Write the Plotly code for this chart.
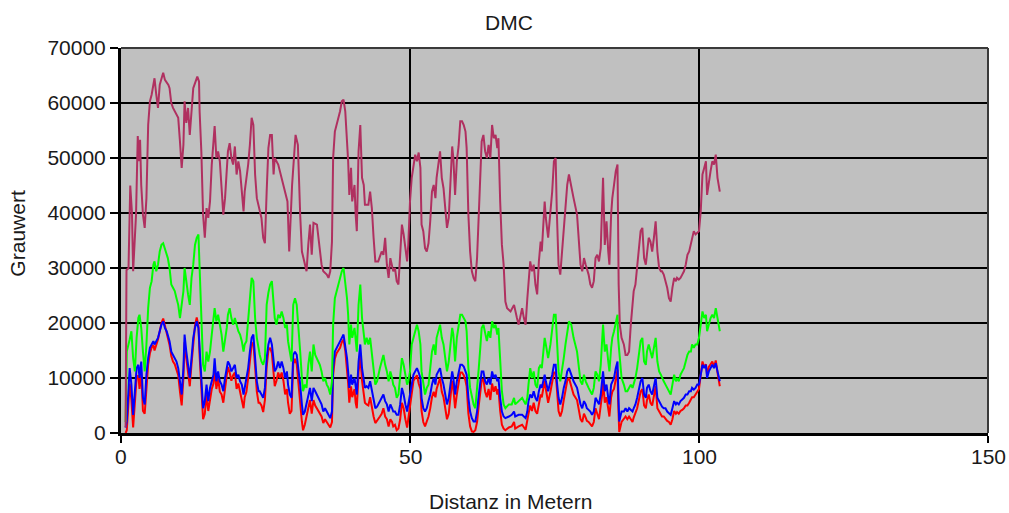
import plotly.graph_objects as go

# ---- Grauwert profile along the measured distance (metres) ----
# distance samples of the upper (DMC total) curve
DMC_X = [
    0.8, 0.95, 1.3, 1.6, 1.9, 2.1, 2.6, 2.9, 3.1, 3.3,
    3.5, 3.8, 4.1, 4.4, 4.7, 5.0, 5.3, 5.6, 5.8, 6.1,
    6.4, 6.7, 7.3, 7.6, 8.2, 8.4, 8.7, 9.0, 9.6, 9.9,
    10.2, 10.5, 10.8, 11.0, 11.3, 11.6, 11.9, 12.2, 12.5, 12.9,
    13.2, 13.5, 13.6, 13.9, 14.2, 14.5, 14.8, 15.1, 15.4, 15.7,
    16.0, 16.2, 16.5, 16.8, 17.1, 17.4, 17.7, 18.0, 18.3, 18.5,
    18.8, 19.1, 19.4, 19.7, 20.0, 20.3, 20.6, 20.9, 21.2, 21.4,
    21.7, 22.0, 22.3, 22.6, 22.9, 23.2, 23.5, 23.8, 24.0, 24.3,
    24.6, 24.9, 25.2, 25.5,
    25.8, 26.1, 26.4, 26.6, 27.2, 27.8, 28.4, 28.8, 29.1, 29.4,
    29.6, 30.0, 30.2, 30.6, 30.8, 31.0, 31.3, 31.8, 32.1, 32.4,
    32.7, 33.0, 33.3, 33.9, 34.4, 34.7, 35.0, 35.6, 35.9, 36.2,
    36.5, 36.7, 37.0, 37.3, 37.6, 37.9, 38.2, 38.5, 38.8, 39.1,
    39.3, 39.5, 39.8, 40.0, 40.4, 40.6, 40.8, 41.1, 41.4, 41.7,
    42.0, 42.2, 42.8, 43.1, 43.4, 43.7, 44.0, 44.5, 45.1, 45.4,
    45.7, 46.0, 46.3, 46.6, 46.9, 47.1, 47.4, 47.7, 48.0, 48.3,
    48.6, 48.9, 49.2, 49.5, 49.7, 50.0, 50.3, 50.6, 50.9, 51.2,
    51.5,
    51.8, 52.0, 52.3, 52.6, 52.9, 53.2, 53.5, 53.8, 54.1, 54.4,
    54.6, 54.9, 55.2, 55.5, 55.8, 56.1, 56.4, 56.7, 57.0, 57.3,
    57.5, 57.8, 58.1, 58.4, 58.7, 59.0, 59.3, 59.6, 59.8, 60.1,
    60.4, 60.7, 61.0, 61.3, 61.6, 61.9, 62.2, 62.4, 62.7, 63.0,
    63.3, 63.6, 63.9, 64.2, 64.5, 64.8, 65.1, 65.3, 65.6, 65.9,
    66.2, 66.5, 66.8, 67.4, 68.0, 68.2, 68.5, 68.8, 69.1, 69.4,
    69.7, 70.0, 70.3, 70.5, 70.8, 71.1, 71.4, 71.7, 72.0, 72.3,
    72.6, 72.8, 73.1, 73.3, 73.5, 73.9, 74.3, 74.6, 74.9, 75.2,
    75.4, 75.7, 76.0, 76.3, 76.6, 76.9, 77.2, 77.5,
    77.9, 78.3, 78.9, 79.2, 79.5, 79.8, 80.1, 80.4, 80.6, 80.9,
    81.2, 81.5, 81.8, 82.1, 82.4, 82.7, 83.0, 83.3, 83.4, 83.7,
    84.0, 84.3, 84.5, 84.8, 85.0, 85.3, 85.6, 85.9, 86.0, 86.1,
    86.3, 86.6, 87.0, 87.3, 87.6, 87.9, 88.2, 88.5, 88.7, 89.0,
    89.3, 89.6, 89.9, 90.2, 90.5, 90.8, 91.0, 91.3, 91.6, 91.9,
    92.2, 92.5, 92.8, 93.1, 93.4, 93.6, 93.9, 94.2, 94.5, 94.8,
    95.1, 95.4, 95.7, 96.0, 96.2, 96.5, 96.8, 97.1, 97.4, 97.7,
    98.0, 98.3, 98.6, 98.8, 99.1, 99.4, 99.7, 100.0, 100.3, 100.6,
    100.9, 101.2, 101.4, 101.7, 102.0, 102.3, 102.6, 102.9, 103.2, 103.6,
]
DMC_Y = [
    1000, 29600, 30000, 45000, 40000, 29400, 39700, 54000, 49400, 53300,
    45100, 39700, 37300, 42700, 56000, 60300, 61500, 63900, 64500, 61500,
    59100, 63300, 65500, 64200, 63300, 62700, 60000, 59100, 57900, 57300,
    53000, 48200, 52400, 60300, 56400, 59100, 54200, 58500, 62700, 63900,
    64800, 63900, 58500, 51200, 39700, 35500, 40900, 39100, 42100, 48800,
    53600, 55800, 50000, 51200, 49400, 45100, 39700, 42700, 47600, 51200,
    52700, 50000, 48800, 52100, 47000, 49400, 47600, 43300, 40300, 43900,
    46400, 48800, 52400, 57300, 56000, 47000, 42700, 41500, 40300, 39100,
    35500, 34500, 43900, 51800,
    54200, 54200, 47000, 50000, 48800, 46400, 43900, 42100, 33000, 40300,
    45100, 51200, 54200, 52400, 45100, 39700, 33000, 30600, 29400, 34200,
    37900, 32400, 38200, 37900, 33000, 30600, 29400, 28800, 28200, 29400,
    34800, 50000, 54800, 56000, 57300, 58500, 60300, 60600, 58500, 53000,
    49400, 43300, 48200, 42100, 45100, 39700, 36700, 51200, 56000, 46400,
    45100, 41500, 41500, 43900, 40900, 35500, 31200, 31200, 33000, 32400,
    35500, 30600, 28200, 31800, 30600, 29400, 30000, 27600, 27000, 31800,
    37900, 36100, 33000, 31200, 34200, 42100, 46400, 48800, 50600, 49400,
    51000,
    48200, 37900, 36700, 33600, 33000, 34500, 38500, 43900, 45100, 42700,
    46400, 48800, 51200, 46400, 44500, 40900, 37300, 39100, 44500, 52100,
    50000, 43300, 49400, 52100, 56700, 56700, 56000, 54800, 51800, 39700,
    33000, 29400, 28200, 27600, 31800, 40300, 46400, 53000, 54200, 51200,
    50000, 52400, 50000, 56000, 53600, 54200, 51800, 53600, 42100, 34200,
    30600, 23900, 22700, 22100, 23300, 22100, 20900, 19700, 21500, 22700,
    20900, 19700, 24500, 27600, 31200, 29400, 30600, 27000, 25200, 31200,
    34800, 33000, 37900, 42100, 39100, 35500, 40300, 43900, 49400, 50000,
    40300, 30600, 28800, 33000, 36700, 41500, 45100, 47000,
    44500, 42700, 39700, 34200, 30600, 29400, 31800, 30600, 30000, 28800,
    27000, 26400, 27600, 31800, 32400, 31200, 33600, 40900, 46400, 34200,
    38500, 33000, 30600, 39700, 42700, 45100, 47600, 48800, 36100, 27000,
    19700, 17300, 16100, 14200, 14200, 14800, 19700, 23300, 25800, 27000,
    30000, 34200, 36700, 37300, 31800, 30600, 33000, 35500, 34800, 33000,
    35500, 38500, 33000, 30000, 29400, 29400, 28800, 27600, 26400, 24500,
    23900, 26400, 28200, 27600, 28200, 27900, 28200, 28800, 29400, 30600,
    32400, 33000, 34200, 35500, 36700, 36100, 36400, 36700, 40300, 47000,
    48200, 49400, 43300, 45800, 47600, 49400, 48800, 50600, 46400, 43900,
]

# distance samples shared by the three colour channels
CH_X = [
    0.8, 1.0, 1.5, 1.8, 2.1, 2.4, 2.7, 3.0, 3.2, 3.5,
    3.8, 4.1, 4.4, 4.7, 5.0, 5.3, 5.6, 5.8, 6.1, 6.4,
    6.7, 7.0, 7.3, 7.6, 7.9, 8.1, 8.4, 8.7, 9.0, 9.3,
    9.6, 9.9, 10.2, 10.5, 10.8, 11.0, 11.3, 11.6, 11.9, 12.2,
    12.5, 12.8, 13.1, 13.4, 13.6, 13.9, 14.2, 14.5, 14.8, 15.1,
    15.4, 15.7, 16.0, 16.2, 16.5, 16.8, 17.1, 17.4, 17.7, 18.0,
    18.3, 18.5, 18.8, 19.1, 19.4, 19.7, 20.0, 20.3, 20.6, 20.9,
    21.2, 21.4, 21.7, 22.0, 22.3, 22.6, 22.9, 23.2, 23.5, 23.8,
    24.0, 24.3, 24.6, 24.9, 25.2, 25.5,
    25.8, 26.1, 26.4, 26.6, 26.9, 27.2, 27.5, 27.8, 28.1, 28.4,
    28.7, 28.9, 29.2, 29.5, 29.8, 30.1, 30.4, 30.7, 31.0, 31.3,
    31.5, 31.8, 32.1, 32.4, 32.7, 33.0, 33.3, 33.6, 33.9, 34.1,
    34.4, 34.7, 35.0, 35.3, 35.6, 35.9, 36.2, 36.5, 36.7, 37.0,
    37.3, 37.6, 37.9, 38.2, 38.5, 38.8, 39.1, 39.3, 39.5, 39.8,
    40.0, 40.4, 40.6, 40.8, 41.1, 41.4, 41.7, 42.0, 42.2, 42.5,
    42.8, 43.1, 43.4, 43.7, 44.0, 44.3, 44.5, 44.8, 45.1, 45.4,
    45.7, 46.0, 46.3, 46.6, 46.9, 47.1, 47.4, 47.7, 48.0, 48.3,
    48.6, 48.9, 49.2, 49.5, 49.7, 50.0, 50.3, 50.6, 50.9, 51.2,
    51.5,
    51.8, 52.0, 52.3, 52.6, 52.9, 53.2, 53.5, 53.8, 54.1, 54.4,
    54.6, 54.9, 55.2, 55.5, 55.8, 56.1, 56.4, 56.7, 57.0, 57.3,
    57.5, 57.8, 58.1, 58.4, 58.7, 59.0, 59.3, 59.6, 59.8, 60.1,
    60.4, 60.7, 61.0, 61.3, 61.6, 61.9, 62.2, 62.4, 62.7, 63.0,
    63.3, 63.6, 63.9, 64.2, 64.5, 64.8, 65.1, 65.3, 65.6, 65.9,
    66.2, 66.5, 67.1, 67.6, 68.0, 68.2, 68.8, 69.4, 70.0, 70.3,
    70.5, 70.8, 71.1, 71.4, 71.7, 72.0, 72.3, 72.6, 72.8, 73.1,
    73.3, 73.5, 73.9, 74.3, 74.6, 74.9, 75.2, 75.4, 75.7, 76.0,
    76.3, 76.6, 76.9, 77.2, 77.5,
    77.9, 78.3, 78.9, 79.2, 79.5, 79.8, 80.1, 80.4, 80.6, 80.9,
    81.2, 81.5, 81.8, 82.1, 82.4, 82.7, 83.0, 83.3, 83.4, 83.7,
    84.0, 84.3, 84.5, 84.8, 85.0, 85.3, 85.6, 85.9, 86.0, 86.2,
    86.6, 87.0, 87.3, 87.6, 87.9, 88.2, 88.5, 88.7, 89.0, 89.3,
    89.6, 89.9, 90.2, 90.5, 90.8, 91.0, 91.3, 91.6, 91.9, 92.2,
    92.5, 92.8, 93.1, 93.4, 93.6, 93.9, 94.2, 94.5, 94.8, 95.1,
    95.4, 95.7, 96.0, 96.2, 96.5, 96.8, 97.1, 97.4, 97.7, 98.0,
    98.3, 98.6, 98.8, 99.1, 99.4, 99.7, 100.0, 100.3, 100.6, 100.9,
    101.2, 101.4, 101.7, 102.0, 102.3, 102.6, 102.9, 103.2, 103.6,
]

GREEN_Y = [
    2000, 14800, 17000, 18500, 13600, 11200, 17300, 20900, 21500, 19100,
    14800, 11200, 16100, 22700, 26400, 27600, 30600, 31200, 29400, 30600,
    33000, 34200, 34500, 33600, 32400, 31800, 30000, 27000, 26400, 25800,
    24500, 23300, 20900, 23300, 25800, 30000, 27000, 25200, 23300, 28200,
    30600, 34200, 35500, 36100, 30000, 21500, 12400, 11200, 14800, 13000,
    14800, 17900, 20900, 22700, 20300, 21500, 19700, 17900, 14800, 16700,
    19100, 21500, 22700, 20900, 19700, 20900, 19700, 18500, 17900, 16700,
    14800, 16100, 16700, 20900, 23300, 28200, 27600, 20900, 17300, 14800,
    14200, 13000, 12400, 13600, 23300, 25500,
    27000, 27600, 23300, 20900, 19700, 21500, 20900, 22100, 20900, 19100,
    19700, 16700, 14800, 13000, 23300, 24500, 23300, 19700, 14800, 10000,
    7600, 8800, 8200, 12400, 14800, 11200, 16100, 14200, 13600, 13000,
    12400, 11200, 9400, 10000, 8800, 8200, 7000, 9400, 19700, 24500,
    25800, 27000, 28200, 29400, 30000, 27600, 24500, 21500, 16100, 19700,
    17300, 19100, 16700, 14800, 23300, 27000, 20900, 17900, 16100, 17300,
    16100, 17300, 14800, 11200, 8800, 9400, 10600, 11800, 13000, 14200,
    12400, 11200, 9400, 11200, 10000, 8800, 8200, 6400, 7000, 10000,
    13600, 12400, 10600, 8800, 9400, 11200, 16100, 17300, 18500, 19700,
    18500,
    16100, 11200, 8800, 7000, 8200, 8800, 11800, 14800, 16100, 14200,
    17300, 18500, 19700, 17300, 16100, 13600, 11200, 13000, 16100, 19100,
    17900, 13000, 17300, 19100, 21500, 21500, 20900, 20300, 18500, 11800,
    8200, 6400, 5200, 4500, 7600, 11800, 16100, 19100, 19700, 17900,
    16700, 18500, 17300, 20300, 19100, 19700, 17900, 19100, 12400, 7600,
    5200, 4500, 5200, 5200, 6400, 5200, 5800, 6400, 5200, 6400,
    8800, 11800, 10000, 11200, 8800, 8200, 11800, 12400, 11800, 14800,
    17300, 16100, 13600, 16100, 18500, 21500, 21500, 16100, 11200, 9400,
    11200, 13600, 16100, 18500, 20300,
    19700, 17300, 14800, 11800, 9400, 8800, 10600, 9400, 8800, 8200,
    7600, 7000, 8200, 11200, 10600, 9400, 12400, 17300, 19700, 14800,
    16100, 13000, 11200, 15500, 17300, 18500, 20300, 21500, 17300, 14800,
    10000, 8800, 7600, 7600, 8200, 8800, 8200, 8800, 10000, 11800,
    14800, 16700, 17300, 13000, 12400, 14800, 16100, 14800, 13600, 15500,
    17300, 13000, 11200, 10600, 10000, 9400, 8800, 8200, 7600, 7000,
    8800, 10600, 9400, 10000, 9400, 10600, 11200, 11800, 13000, 14200,
    14800, 14800, 16100, 15500, 16100, 16100, 17300, 19700, 22100, 20900,
    21500, 18500, 19700, 20900, 21500, 20900, 22700, 20900, 18500,
]

BLUE_Y = [
    1000, 2100, 11800, 8800, 3300, 7600, 11800, 12400, 10000, 13000,
    6400, 5200, 10600, 13600, 15500, 16100, 16700, 16100, 16700, 17300,
    18500, 19700, 20300, 19100, 18500, 17900, 16700, 14800, 14200, 13600,
    13000, 11800, 9400, 7000, 11800, 17900, 14800, 12400, 10000, 13600,
    17300, 19100, 20300, 19100, 14800, 9400, 4500, 5800, 8800, 5800,
    8200, 9400, 10600, 13600, 9400, 11200, 9400, 8800, 7600, 10000,
    11800, 13000, 12400, 11200, 11800, 12400, 10000, 10600, 9400, 8800,
    7000, 8200, 9400, 11800, 14800, 17300, 17900, 13000, 9400, 7600,
    7600, 7000, 6400, 8200, 13600, 16100,
    17300, 16100, 13000, 11200, 11800, 13000, 11800, 13000, 11800, 10000,
    11200, 8800, 7000, 6400, 14200, 14800, 14200, 11800, 8800, 5200,
    3300, 3900, 5200, 7000, 8200, 5800, 8200, 7600, 7000, 6400,
    5800, 5200, 3900, 4500, 3900, 3300, 2700, 3900, 11800, 14800,
    15500, 16100, 16700, 17300, 17900, 16100, 13600, 11200, 8200, 10600,
    8800, 10000, 8200, 7000, 13000, 16100, 11800, 9400, 8200, 8500,
    8200, 9400, 7600, 5800, 4500, 4800, 5200, 5800, 6400, 7000,
    5800, 5200, 3900, 5200, 4500, 3900, 3900, 3300, 3300, 5200,
    8200, 7000, 5200, 3900, 5200, 7000, 9400, 10600, 11200, 11800,
    11000,
    10000, 6400, 4500, 3900, 4500, 5800, 7000, 8800, 10000, 8800,
    10600, 11200, 11800, 10000, 8800, 7000, 5200, 6400, 9400, 11200,
    10000, 7000, 9400, 11200, 12400, 12400, 12100, 11200, 10600, 6400,
    3900, 2700, 2100, 2100, 3900, 7000, 9400, 11200, 11200, 9400,
    8800, 10000, 8800, 11200, 10000, 10600, 9400, 10000, 6400, 3900,
    3000, 2700, 3000, 3300, 3900, 3000, 3300, 3300, 2700, 3900,
    5800, 7000, 6400, 7600, 6400, 5800, 7600, 8800, 8200, 9400,
    10600, 9400, 7600, 9400, 10600, 12400, 12400, 9400, 6400, 5200,
    6400, 8200, 9400, 11200, 11800,
    10600, 9400, 8200, 6400, 5200, 4500, 5800, 5200, 4500, 4200,
    3900, 3300, 3900, 6400, 5800, 5200, 7000, 9400, 11200, 7600,
    8800, 6400, 5200, 8800, 9400, 10000, 11800, 13000, 8800, 2100,
    3900, 3900, 4500, 3900, 4500, 4200, 3900, 4500, 5200, 6400,
    8200, 9400, 10000, 7000, 6400, 8200, 8800, 7600, 7000, 8800,
    10000, 6400, 5800, 5200, 4800, 4500, 4500, 3900, 3600, 3300,
    4500, 5800, 5200, 5500, 5200, 5800, 6100, 6400, 7000, 7000,
    7600, 7600, 8200, 7900, 8200, 8800, 8800, 10600, 12400, 11800,
    12400, 10000, 11200, 11800, 12400, 11800, 12700, 11200, 9400,
]

RED_Y = [
    0, 500, 9000, 6000, 1000, 5000, 10000, 10500, 8000, 11000,
    4000, 3500, 9000, 12500, 14500, 15500, 16000, 15000, 16000, 17000,
    18500, 20000, 20800, 19500, 18500, 17500, 16000, 14000, 13000, 12500,
    11500, 10500, 7500, 5000, 10000, 16500, 13500, 11000, 8500, 12500,
    16500, 19500, 21000, 19500, 14000, 7500, 2500, 3500, 7000, 4000,
    6500, 8000, 9000, 12000, 8000, 10000, 7500, 7000, 5500, 8500,
    10500, 12000, 11000, 9500, 10500, 11000, 8000, 9000, 7500, 6500,
    4500, 6500, 7500, 10000, 13500, 16000, 16500, 11500, 7500, 5500,
    5500, 5000, 3800, 6000, 12000, 15000,
    15500, 14500, 11000, 8500, 9500, 11000, 10000, 11000, 9500, 7000,
    8000, 5500, 3500, 4000, 12500, 13500, 12500, 9500, 5500, 2000,
    500, 1500, 3000, 5000, 6000, 3500, 6000, 5000, 4500, 4000,
    3500, 3000, 1800, 2500, 2000, 1500, 1000, 2000, 10500, 13500,
    14500, 15000, 15500, 16500, 17000, 15000, 12000, 9000, 5500, 8500,
    6500, 8000, 5500, 4500, 11000, 14000, 9500, 6500, 5500, 5200,
    5000, 6500, 4500, 3000, 1800, 2200, 2500, 3000, 3500, 4500,
    3000, 2500, 1200, 2500, 2000, 1200, 1500, 500, 800, 2500,
    5500, 4500, 2500, 1000, 2500, 5000, 7500, 9500, 10000, 10500,
    9000,
    8000, 4000, 2000, 1200, 2000, 3000, 4500, 6500, 7500, 6500,
    8000, 9000, 10000, 7500, 6500, 4500, 2500, 3500, 7000, 9500,
    8000, 4500, 7000, 9000, 11000, 11000, 10500, 9500, 8500, 3500,
    1200, 300, 200, 500, 2000, 5000, 7500, 9500, 9800, 7500,
    6500, 8000, 6000, 9000, 7500, 8500, 7000, 8000, 4000, 1500,
    800, 500, 1000, 1200, 2000, 800, 1200, 1500, 600, 2000,
    3500, 5000, 4000, 5500, 4000, 3500, 5500, 7000, 6500, 8000,
    9500, 8000, 5500, 7500, 9000, 11000, 11000, 7500, 4000, 3000,
    4000, 6000, 7500, 9500, 10000,
    8500, 7000, 6000, 4000, 2500, 2000, 3500, 2800, 2200, 2000,
    1500, 1200, 2000, 4500, 3500, 2500, 5000, 7500, 9500, 5500,
    6500, 4000, 3000, 6500, 7500, 8000, 10000, 11500, 6000, 200,
    2000, 2500, 3000, 2500, 3000, 2500, 2000, 2800, 3500, 4500,
    6000, 7500, 8000, 5000, 4500, 6000, 7000, 5500, 5000, 6500,
    8500, 4500, 4000, 3500, 3000, 3000, 2500, 2200, 2000, 1500,
    2500, 4000, 3500, 3800, 3500, 4000, 4200, 4500, 5000, 5000,
    5500, 6000, 6500, 6500, 7000, 7500, 8000, 10500, 13000, 12000,
    12500, 10500, 12000, 12500, 13000, 12000, 13200, 11000, 8500,
]

assert len(DMC_X) == len(DMC_Y)
assert len(CH_X) == len(GREEN_Y) == len(BLUE_Y) == len(RED_Y)

X_TICKS = [0, 50, 100, 150]
Y_TICKS = [0, 10000, 20000, 30000, 40000, 50000, 60000, 70000]

FONT = "Liberation Sans, Arial, sans-serif"
TEXT = dict(family=FONT, size=21, color="#1a1a1a")

fig = go.Figure()
# draw order: red channel under blue, then green, then the total curve
for ys, col in [(RED_Y, "#FF0000"), (BLUE_Y, "#0000FF"), (GREEN_Y, "#00FF00")]:
    fig.add_trace(go.Scatter(x=CH_X, y=ys, mode="lines",
                             line=dict(color=col, width=2), showlegend=False))
fig.add_trace(go.Scatter(x=DMC_X, y=DMC_Y, mode="lines",
                         line=dict(color="#B03060", width=2), showlegend=False))

# x tick labels placed as text just under the short tick marks
x_labels = [
    dict(text=str(v), x=v, xref="x", yref="paper", y=-0.06,
         xanchor="center", yanchor="middle", showarrow=False, font=TEXT)
    for v in X_TICKS
]

fig.update_layout(
    width=1009, height=513,
    margin=dict(l=121, r=21, t=48, b=80),
    paper_bgcolor="white",
    plot_bgcolor="#C0C0C0",
    font=TEXT,
    xaxis=dict(
        range=[0, 150], tickvals=X_TICKS, showticklabels=False, automargin=False,
        showgrid=True, gridcolor="black", gridwidth=2,
        zeroline=False, showline=True, linecolor="black", linewidth=3,
        ticks="outside", ticklen=7, tickwidth=2, tickcolor="black",
    ),
    yaxis=dict(
        range=[0, 70000], tickvals=Y_TICKS, ticktext=[str(v) for v in Y_TICKS],
        automargin=False,
        showgrid=True, gridcolor="black", gridwidth=2,
        zeroline=False, showline=True, linecolor="black", linewidth=3,
        ticks="outside", ticklen=8, tickwidth=2, tickcolor="black",
        tickfont=TEXT,
    ),
    shapes=[
        dict(type="line", xref="paper", yref="paper", x0=0, x1=1, y0=1, y1=1,
             line=dict(color="#3a3a3a", width=2)),
        dict(type="line", xref="paper", yref="paper", x0=1, x1=1, y0=0, y1=1,
             line=dict(color="#3a3a3a", width=2)),
    ],
    annotations=x_labels + [
        dict(text="DMC", xref="paper", yref="paper", x=0.4475, y=1.065,
             xanchor="center", yanchor="middle", showarrow=False, font=TEXT),
        dict(text="Distanz in Metern", xref="paper", yref="paper", x=0.449, y=-0.177,
             xanchor="center", yanchor="middle", showarrow=False, font=TEXT),
        dict(text="Grauwert", xref="paper", yref="paper", x=-0.119, y=0.52,
             xanchor="center", yanchor="middle", showarrow=False, textangle=-90,
             font=TEXT),
    ],
)

fig.write_html("out.html")
